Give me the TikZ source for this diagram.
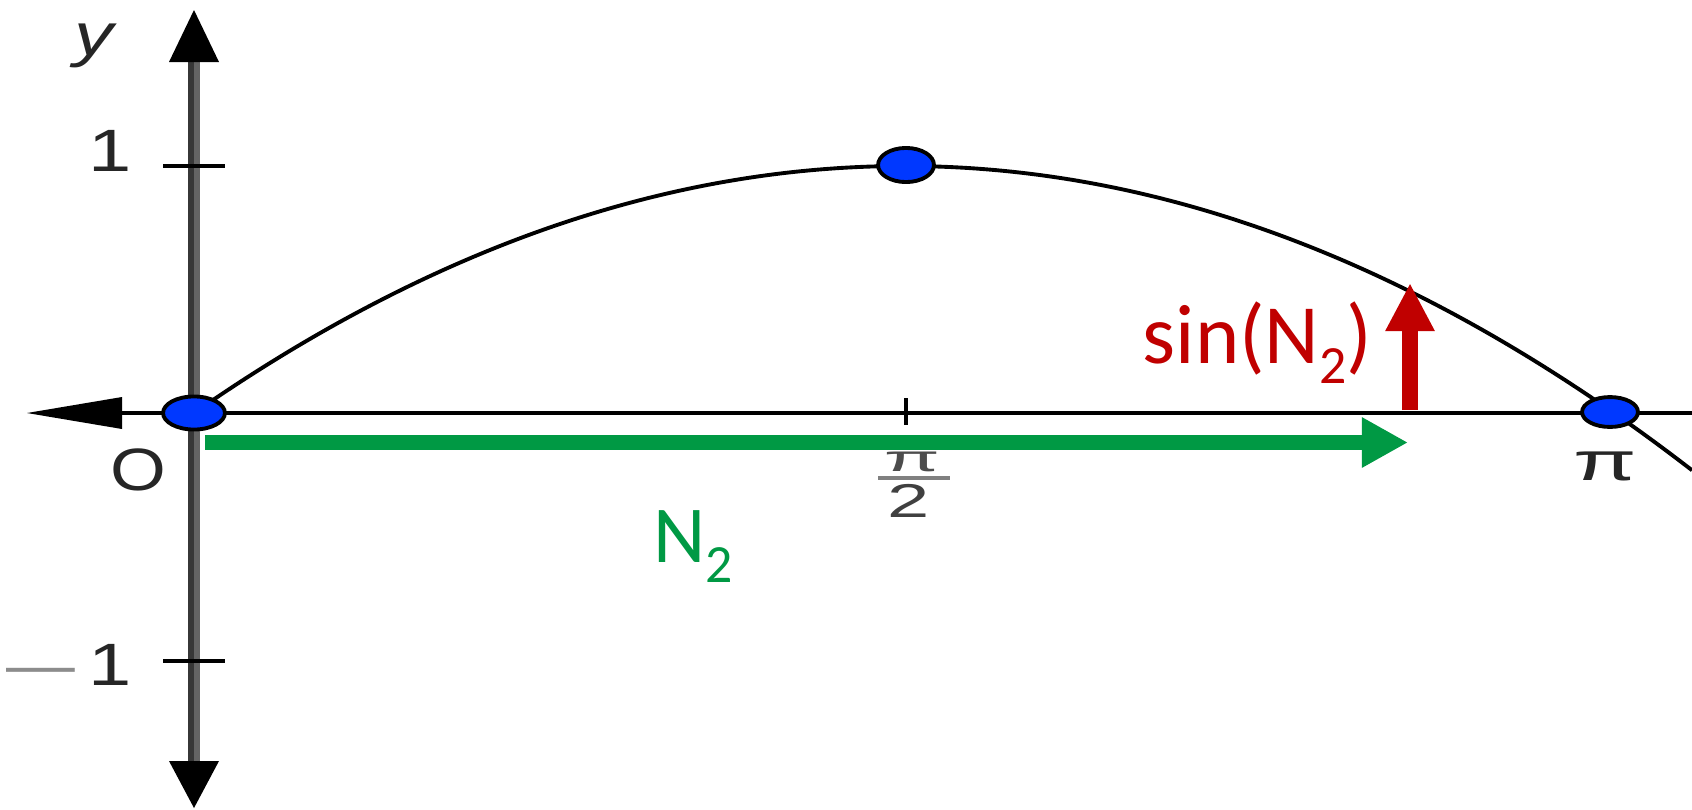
\documentclass[tikz,border=0pt]{standalone}
\usepackage{fontspec}
\setmainfont{Liberation Sans}
\newfontfamily\calfont{Carlito}
\usetikzlibrary{arrows.meta,shapes.geometric}
\definecolor{dotblue}{RGB}{0,56,255}
\definecolor{ngreen}{RGB}{0,153,68}
\definecolor{nred}{RGB}{192,0,0}
\definecolor{axdark}{RGB}{55,55,55}
\definecolor{axlight}{RGB}{100,100,100}
\newcommand\lsub[1]{\raisebox{-5.7pt}{\fontsize{15.3}{15.3}\selectfont #1}}
\begin{document}
\begin{tikzpicture}[x=0.01cm,y=-0.01cm,
  axlab/.style={inner sep=0, text=black!85, font=\fontsize{17}{17}\selectfont},
  dot/.style={ellipse, draw=black, line width=1.1pt, fill=dotblue, inner sep=0},
  curve/.style={line width=1.1pt, black},
  tick/.style={line width=1.14pt, black},
  vecgreen/.style={draw=ngreen, line width=4.27pt, -{Triangle[length=13.1pt 0 0, width=13.4pt 0 0]}},
  vecred/.style={draw=nred, line width=4.55pt, -{Triangle[length=13.7pt 0 0, width=13.1pt 0 0]}},
  callab/.style={inner sep=0, font=\calfont\fontsize{23}{23}\selectfont}]
\useasboundingbox (0,0) rectangle (1692,809);
% y axis
\draw[axdark, line width=1.8pt] (191,58) -- (191,765);
\draw[axlight, line width=1.8pt] (197,58) -- (197,765);
\fill[black] (194,10) -- (219,62) -- (169,62) -- cycle;
\fill[black] (194,808) -- (219,761) -- (169,761) -- cycle;
% x axis
\draw[black, line width=1.3pt] (110,413) -- (1692,413);
\fill[black] (27,413) -- (122,397) -- (122,429) -- cycle;
% curve
\draw[curve] plot[domain=194:1692, samples=150, smooth] (\x, {166+247*((\x-904)/710)^2});
% ticks
\draw[tick] (163,166) -- (225,166);
\draw[tick] (163,661) -- (225,661);
\draw[tick] (906,398) -- (906,425);
% dots
\node[dot, minimum width=17.6pt, minimum height=9.4pt] (d0) at (194,413) {};
\node[dot, minimum width=15.9pt, minimum height=9.7pt] (dtop) at (906,165) {};
\node[dot, minimum width=15.9pt, minimum height=8.5pt] (dpi) at (1610,412) {};
% half pi label (under the green vector)
\node[axlab, anchor=base, text=black!70] (hpi) at (912,471) {\scalebox{2.2}[1]{\fontsize{10.5}{10.5}\selectfont π}};
\draw[black!50, line width=1.1pt] (878,478) -- (950,478);
\node[axlab, anchor=base, text=black!75] (htwo) at (909,517) {\scalebox{1.6}[1]{\fontsize{13.5}{13.5}\selectfont 2}};
% vectors
\coordinate (gs) at (205,442.5);
\coordinate (ge) at (1408,442.5);
\draw[vecgreen] (gs) -- (ge);
\coordinate (rs) at (1410,410);
\coordinate (re) at (1410,283);
\draw[vecred] (rs) -- (re);
% axis labels
\node[axlab, anchor=base] (ylab) at (94,55) {\scalebox{1.3}[1]{\itshape y}};
\node[axlab, anchor=base] (one) at (110,171) {\scalebox{1.3}[1]{1}};
\node[axlab, anchor=base] (mone) at (110,685) {\scalebox{1.3}[1]{1}};
\node[axlab, anchor=base, text=black!45] (minus) at (41,685) {\scalebox{1.15}[1]{—}};
\node[axlab, anchor=base] (olab) at (138,490) {\scalebox{1.2}[1]{O}};
\node[axlab, anchor=base] (pilab) at (1605,480) {\scalebox{1.7}[1]{\fontsize{15.4}{15.4}\selectfont π}};
% vector labels
\node[callab, text=nred, anchor=base west, font=\calfont\fontsize{24}{24}\selectfont] (sinlab) at (1142,363) {sin(N\lsub{2})};
\node[callab, text=ngreen, anchor=base west] (nlab) at (653,562) {N\lsub{2}};
\end{tikzpicture}
\end{document}
